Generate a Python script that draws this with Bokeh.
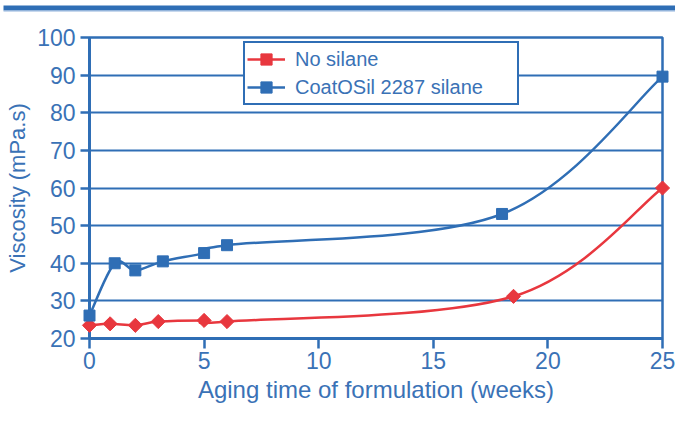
import math
from bokeh.plotting import figure
from bokeh.models import Range1d, FixedTicker, Legend, LegendItem
from bokeh.embed import file_html
from bokeh.resources import INLINE

# ---- data ----
NO_SILANE_X = [0, 0.9, 2, 3, 5, 6, 18.5, 25]
NO_SILANE_Y = [23.5, 23.9, 23.5, 24.5, 24.8, 24.5, 31.2, 60.0]
COATOSIL_X = [0, 1.1, 2, 3.2, 5, 6, 18, 25]
COATOSIL_Y = [26.1, 40.0, 38.1, 40.5, 42.7, 44.8, 53.1, 89.6]
X_TICKS = [0, 5, 10, 15, 20, 25]
Y_TICKS = [20, 30, 40, 50, 60, 70, 80, 90, 100]
SERIES_NAMES = ["No silane", "CoatOSil 2287 silane"]
X_MIN, X_MAX, Y_MIN, Y_MAX = 0, 25, 20, 100

BLUE = "#2F6EB5"
TEXT = "#3A72B6"
RED = "#E8373E"
FONT = "Liberation Sans"

W, H = 675, 411
B_LEFT, B_RIGHT, B_TOP, B_BOTTOM = 89, 13, 37, 73
FRAME_W = W - B_LEFT - B_RIGHT
FRAME_H = H - B_TOP - B_BOTTOM
PX_X = FRAME_W / (X_MAX - X_MIN)
PX_Y = FRAME_H / (Y_MAX - Y_MIN)


def smooth_segments(xs, ys, k=1 / 6):
    """Bezier control points for a smoothed line through the given points."""
    n = len(xs)
    out = {key: [] for key in ("x0", "y0", "x1", "y1", "cx0", "cy0", "cx1", "cy1")}
    for i in range(n - 1):
        ip = max(i - 1, 0)
        inx = min(i + 2, n - 1)
        out["x0"].append(xs[i]); out["y0"].append(ys[i])
        out["x1"].append(xs[i + 1]); out["y1"].append(ys[i + 1])
        out["cx0"].append(xs[i] + (xs[i + 1] - xs[ip]) * k)
        out["cy0"].append(ys[i] + (ys[i + 1] - ys[ip]) * k)
        out["cx1"].append(xs[i + 1] - (xs[inx] - xs[i]) * k)
        out["cy1"].append(ys[i + 1] - (ys[inx] - ys[i]) * k)
    return out


p = figure(width=W, height=H, output_backend="svg", toolbar_location=None,
           x_range=Range1d(X_MIN, X_MAX), y_range=Range1d(Y_MIN, Y_MAX),
           min_border_left=B_LEFT, min_border_right=B_RIGHT, min_border_top=B_TOP,
           min_border_bottom=B_BOTTOM, background_fill_color="white",
           border_fill_color="white")

# decorative bar along the top edge (placed in the border area, converted from pixels)
bar_left = X_MIN - (B_LEFT - 3) / PX_X
bar_right = X_MAX + B_RIGHT / PX_X
p.quad(left=[bar_left], right=[bar_right], top=[Y_MAX + (B_TOP - 5) / PX_Y],
       bottom=[Y_MAX + (B_TOP - 10) / PX_Y], fill_color=BLUE, line_color=None,
       level="overlay")
p.quad(left=[bar_left], right=[bar_right], top=[Y_MAX + (B_TOP - 10) / PX_Y],
       bottom=[Y_MAX + (B_TOP - 11) / PX_Y], fill_color="#8FB2DC", line_color=None,
       level="overlay")

p.outline_line_color = BLUE
p.outline_line_width = 2.5

for ax in (p.xaxis[0], p.yaxis[0]):
    ax.axis_line_color = BLUE
    ax.axis_line_width = 3
    ax.major_tick_line_color = BLUE
    ax.major_tick_line_width = 2.5
    ax.major_tick_in = 0
    ax.minor_tick_line_color = None
    ax.major_label_text_color = TEXT
    ax.major_label_text_font = FONT
    ax.major_label_text_font_size = "23px"
    ax.axis_label_text_color = TEXT
    ax.axis_label_text_font = FONT
    ax.axis_label_text_font_style = "normal"

p.xaxis.ticker = FixedTicker(ticks=X_TICKS)
p.yaxis.ticker = FixedTicker(ticks=Y_TICKS)
p.xaxis.major_tick_out = 10
p.yaxis.major_tick_out = 9
p.xaxis.major_label_standoff = 3
p.yaxis.major_label_standoff = 5
p.xaxis.axis_label = "Aging time of formulation (weeks)"
p.yaxis.axis_label = "Viscosity (mPa.s)"
p.xaxis.axis_label_text_font_size = "24px"
p.yaxis.axis_label_text_font_size = "22px"
p.xaxis.axis_label_standoff = 4
p.yaxis.axis_label_standoff = 4

p.xgrid.visible = False
p.ygrid.grid_line_color = BLUE
p.ygrid.grid_line_width = 2
p.ygrid.grid_line_alpha = 1

red_seg = smooth_segments(NO_SILANE_X, NO_SILANE_Y)
blue_seg = smooth_segments(COATOSIL_X, COATOSIL_Y)

r_line = p.bezier(line_color=RED, line_width=2.5, **red_seg)
r_pts = p.scatter(NO_SILANE_X, NO_SILANE_Y, marker="square", angle=math.pi / 4,
                  size=10, fill_color=RED, line_color=RED, level="overlay")
b_line = p.bezier(line_color=BLUE, line_width=2.5, **blue_seg)
b_pts = p.scatter(COATOSIL_X, COATOSIL_Y, marker="square", size=11,
                  fill_color=BLUE, line_color=BLUE, level="overlay")

legend = Legend(items=[
    LegendItem(label=SERIES_NAMES[0], renderers=[r_line, r_pts]),
    LegendItem(label=SERIES_NAMES[1], renderers=[b_line, b_pts]),
], location=(154, 233))
legend.label_text_font = FONT
legend.label_text_font_size = "20px"
legend.label_text_color = TEXT
legend.border_line_color = BLUE
legend.border_line_width = 2
legend.border_line_alpha = 1
legend.background_fill_color = "white"
legend.background_fill_alpha = 1
legend.padding = 2
legend.spacing = 0
legend.margin = 0
legend.glyph_width = 38
legend.glyph_height = 28
legend.label_height = 28
legend.label_standoff = 10
legend.label_width = 220
p.add_layout(legend, "center")

open("out.html", "w").write(file_html(p, INLINE))
